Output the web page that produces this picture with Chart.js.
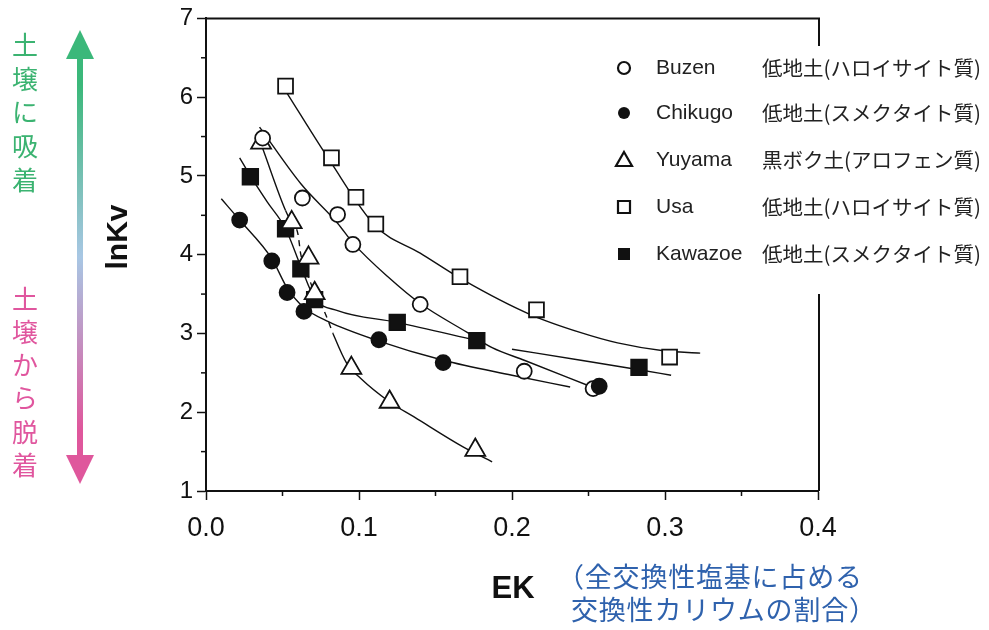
<!DOCTYPE html>
<html>
<head>
<meta charset="utf-8">
<script src="https://cdn.jsdelivr.net/npm/chart.js@4.4.1/dist/chart.umd.min.js"></script>
<style>
body { margin: 0; background: #fff; }
#wrap { position: relative; width: 989px; height: 630px; }
</style>
</head>
<body>
<div id="wrap"><canvas id="kvChart"></canvas></div>
<script>
const buzenX   = [0.037, 0.063, 0.086, 0.096, 0.140, 0.208, 0.253];
const buzenY   = [5.48, 4.72, 4.51, 4.13, 3.37, 2.52, 2.30];
const chikugoX = [0.022, 0.043, 0.053, 0.064, 0.113, 0.155, 0.257];
const chikugoY = [4.44, 3.92, 3.52, 3.28, 2.92, 2.63, 2.33];
const yuyamaX  = [0.036, 0.056, 0.067, 0.071, 0.095, 0.120, 0.176];
const yuyamaY  = [5.42, 4.41, 3.96, 3.51, 2.56, 2.13, 1.52];
const usaX     = [0.052, 0.082, 0.098, 0.111, 0.166, 0.216, 0.303];
const usaY     = [6.14, 5.23, 4.73, 4.39, 3.72, 3.30, 2.70];
const kawazoeX = [0.029, 0.052, 0.062, 0.071, 0.125, 0.177, 0.283];
const kawazoeY = [4.99, 4.33, 3.82, 3.43, 3.14, 2.91, 2.57];

// Hand-drawn fitted curves
const buzenFitX   = [0.035, 0.062, 0.086, 0.096, 0.120, 0.140, 0.171, 0.187, 0.208, 0.251];
const buzenFitY   = [5.62, 4.90, 4.40, 4.15, 3.70, 3.38, 3.01, 2.82, 2.66, 2.33];
const chikugoFitX = [0.010, 0.022, 0.043, 0.053, 0.064, 0.080, 0.112, 0.155, 0.200, 0.238];
const chikugoFitY = [4.71, 4.44, 3.95, 3.58, 3.33, 3.15, 2.91, 2.66, 2.47, 2.32];
const yuyamaFitX  = [0.037, 0.052, 0.056, 0.060, 0.062, 0.067, 0.071, 0.078, 0.083, 0.092, 0.101, 0.120, 0.136, 0.168, 0.187];
const yuyamaFitY  = [5.35, 4.56, 4.41, 4.27, 4.00, 3.72, 3.51, 3.25, 3.00, 2.62, 2.43, 2.13, 1.94, 1.56, 1.37];
const usaFitX     = [0.052, 0.081, 0.111, 0.140, 0.168, 0.212, 0.245, 0.269, 0.299, 0.323];
const usaFitY     = [6.08, 5.19, 4.36, 4.02, 3.68, 3.24, 3.01, 2.88, 2.78, 2.75];
const kawazoeFitX  = [0.022, 0.029, 0.040, 0.052, 0.062, 0.071, 0.086, 0.125, 0.177];
const kawazoeFitY  = [5.23, 5.00, 4.67, 4.33, 3.85, 3.45, 3.29, 3.14, 2.91];
const kawazoeFit2X = [0.200, 0.245, 0.283, 0.304];
const kawazoeFit2Y = [2.80, 2.66, 2.54, 2.47];

// Legend / label texts
const seriesNames = ['Buzen', 'Chikugo', 'Yuyama', 'Usa', 'Kawazoe'];
const soilTypes = ['低地土(ハロイサイト質)', '低地土(スメクタイト質)', '黒ボク土(アロフェン質)', '低地土(ハロイサイト質)', '低地土(スメクタイト質)'];
const xMinorTicks = [0.05, 0.15, 0.25, 0.35];
const yMinorTicks = [1.5, 2.5, 3.5, 4.5, 5.5, 6.5];
const adsorbText = '土壌に吸着';
const desorbText = '土壌から脱着';
const xNote = ['（全交換性塩基に占める', '交換性カリウムの割合）'];

const LATIN = '"Liberation Sans", Arial, sans-serif';
const CJK = '"Noto Sans CJK JP", sans-serif';

function zip(xs, ys) {
    return xs.map((x, i) => ({ x: x, y: ys[i] }));
}

function pointSet(label, xs, ys, style, filled, radius, order) {
    return {
        label: label,
        data: zip(xs, ys),
        pointStyle: style,
        pointRadius: radius,
        pointHoverRadius: radius,
        pointBackgroundColor: filled ? '#111' : '#fff',
        pointBorderColor: '#111',
        pointBorderWidth: 1.8,
        showLine: false,
        order: order
    };
}

function fitSet(xs, ys, extra) {
    return Object.assign({
        data: zip(xs, ys),
        showLine: true,
        pointRadius: 0,
        borderColor: '#111',
        borderWidth: 1.4,
        cubicInterpolationMode: 'monotone',
        fill: false,
        order: 10
    }, extra || {});
}

function drawSymbol(ctx, kind, x, y) {
    ctx.beginPath();
    if (kind === 'open-circle' || kind === 'circle') {
        ctx.arc(x, y, 6, 0, Math.PI * 2);
    } else if (kind === 'triangle') {
        ctx.moveTo(x, y - 8);
        ctx.lineTo(x + 8, y + 6);
        ctx.lineTo(x - 8, y + 6);
        ctx.closePath();
    } else {
        ctx.rect(x - 6, y - 6, 12, 12);
    }
    if (kind === 'circle' || kind === 'square') {
        ctx.fillStyle = '#111';
        ctx.fill();
    } else {
        ctx.lineWidth = 2.2;
        ctx.strokeStyle = '#111';
        ctx.stroke();
    }
}

const extras = {
    id: 'extras',
    afterDraw(chart) {
        const ctx = chart.ctx;
        const xs = chart.scales.x;
        const ys = chart.scales.y;
        const area = chart.chartArea;
        ctx.save();

        // minor ticks
        ctx.strokeStyle = '#111';
        ctx.lineWidth = 1.5;
        xMinorTicks.forEach(v => {
            const px = xs.getPixelForValue(v);
            ctx.beginPath(); ctx.moveTo(px, area.bottom); ctx.lineTo(px, area.bottom + 5); ctx.stroke();
        });
        yMinorTicks.forEach(v => {
            const py = ys.getPixelForValue(v);
            ctx.beginPath(); ctx.moveTo(area.left, py); ctx.lineTo(area.left - 5, py); ctx.stroke();
        });

        // top and right frame
        ctx.lineWidth = 2;
        ctx.beginPath();
        ctx.moveTo(area.left, area.top);
        ctx.lineTo(area.right + 1, area.top);
        ctx.lineTo(area.right + 1, ys.getPixelForValue(6.65));
        ctx.moveTo(area.right + 1, ys.getPixelForValue(3.5));
        ctx.lineTo(area.right + 1, area.bottom);
        ctx.stroke();

        // axis titles
        ctx.fillStyle = '#111';
        ctx.font = 'bold 30px ' + LATIN;
        ctx.textAlign = 'center';
        ctx.textBaseline = 'middle';
        ctx.save();
        ctx.translate(119, 237);
        ctx.rotate(-Math.PI / 2);
        ctx.fillText('lnKv', 0, 0);
        ctx.restore();
        ctx.font = 'bold 31px ' + LATIN;
        ctx.textBaseline = 'alphabetic';
        ctx.fillText('EK', 513, 598);

        // note under x axis
        ctx.fillStyle = '#2f62ad';
        ctx.font = '27px ' + CJK;
        ctx.textAlign = 'left';
        ctx.textBaseline = 'middle';
        ctx.letterSpacing = '0.8px';
        ctx.fillText(xNote[0], 557, 577);
        ctx.fillText(xNote[1], 571, 610);
        ctx.letterSpacing = '0px';

        // legend
        const kinds = ['open-circle', 'circle', 'triangle', 'open-square', 'square'];
        const rowY = [68, 113, 160, 207, 254];
        kinds.forEach((k, i) => {
            drawSymbol(ctx, k, 624, rowY[i]);
            ctx.fillStyle = '#222';
            ctx.font = '21px ' + LATIN;
            ctx.textBaseline = 'middle';
            ctx.fillText(seriesNames[i], 656, rowY[i]);
            ctx.font = '20.5px ' + CJK;
            ctx.fillText(soilTypes[i], 762, rowY[i]);
        });

        // gradient arrow on the left
        const grad = ctx.createLinearGradient(0, 30, 0, 484);
        grad.addColorStop(0, '#3bb87a');
        grad.addColorStop(0.12, '#3bb87a');
        grad.addColorStop(0.5, '#a8c7e4');
        grad.addColorStop(0.88, '#df579c');
        grad.addColorStop(1, '#df579c');
        ctx.fillStyle = grad;
        ctx.fillRect(77, 56, 6, 402);
        ctx.beginPath();
        ctx.moveTo(80, 30); ctx.lineTo(94, 59); ctx.lineTo(66, 59); ctx.closePath();
        ctx.fill();
        ctx.beginPath();
        ctx.moveTo(80, 484); ctx.lineTo(94, 455); ctx.lineTo(66, 455); ctx.closePath();
        ctx.fill();

        // vertical captions
        ctx.font = '26px ' + CJK;
        ctx.textAlign = 'center';
        ctx.textBaseline = 'middle';
        ctx.fillStyle = '#3bb371';
        Array.from(adsorbText).forEach((ch, i) => ctx.fillText(ch, 25, 45 + i * 33.7));
        ctx.fillStyle = '#e0569e';
        Array.from(desorbText).forEach((ch, i) => ctx.fillText(ch, 25, 299 + i * 33.2));

        ctx.restore();
    }
};

const ctx = document.getElementById('kvChart').getContext('2d');
const kvChart = new Chart(ctx, {
    type: 'scatter',
    data: {
        datasets: [
            fitSet(usaFitX, usaFitY),
            fitSet(buzenFitX, buzenFitY),
            fitSet(kawazoeFitX, kawazoeFitY),
            fitSet(kawazoeFit2X, kawazoeFit2Y),
            fitSet(chikugoFitX, chikugoFitY),
            fitSet(yuyamaFitX, yuyamaFitY, {
                segment: {
                    borderDash: c => (c.p0.parsed.x >= 0.051 && c.p1.parsed.x <= 0.084) ? [6, 5] : undefined
                }
            }),
            pointSet('Chikugo', chikugoX, chikugoY, 'circle', true, 7.5, 1),
            pointSet('Buzen', buzenX, buzenY, 'circle', false, 7.5, 2),
            pointSet('Yuyama', yuyamaX, yuyamaY, 'triangle', false, 11.5, 3),
            pointSet('Usa', usaX, usaY, 'rect', false, 10.5, 4),
            pointSet('Kawazoe', kawazoeX, kawazoeY, 'rect', true, 11, 5)
        ]
    },
    options: {
        responsive: true,
        maintainAspectRatio: false,
        animation: false,
        layout: {
            padding: { top: 17, right: 171, left: 0, bottom: 0 }
        },
        plugins: {
            legend: { display: false },
            tooltip: { enabled: false }
        },
        scales: {
            x: {
                type: 'linear',
                min: 0,
                max: 0.4,
                afterFit: function(scale) { scale.height = 139; },
                border: { color: '#111', width: 2 },
                grid: { drawOnChartArea: false, tickLength: 9, color: '#111', tickWidth: 1.5 },
                ticks: {
                    stepSize: 0.1,
                    padding: 12,
                    color: '#111',
                    font: { size: 27, family: LATIN },
                    callback: function(value) { return value.toFixed(1); }
                }
            },
            y: {
                min: 1,
                max: 7,
                afterFit: function(scale) { scale.width = 206; },
                border: { color: '#111', width: 2 },
                grid: { drawOnChartArea: false, tickLength: 9, color: '#111', tickWidth: 1.5 },
                ticks: {
                    stepSize: 1,
                    padding: 4,
                    color: '#111',
                    font: { size: 24, family: LATIN }
                }
            }
        }
    },
    plugins: [extras]
});
</script>
</body>
</html>
